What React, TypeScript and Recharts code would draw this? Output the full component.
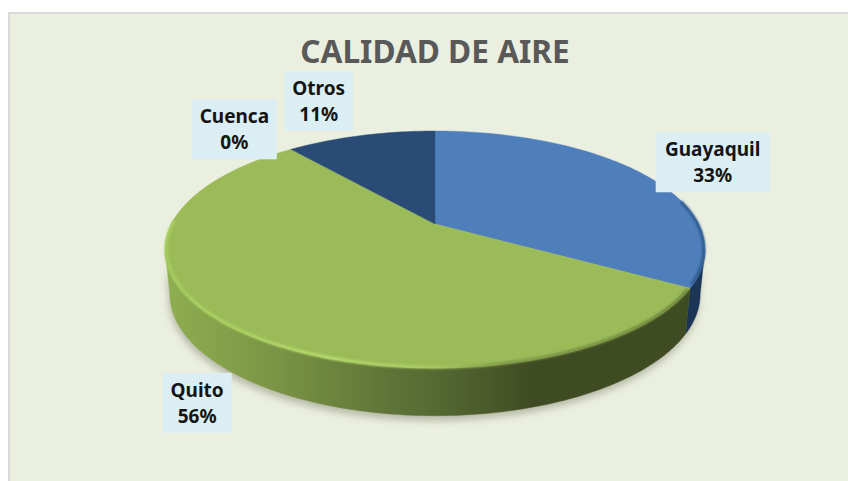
import React from "react";
import { PieChart, Pie } from "recharts";

const TITLE = "CALIDAD DE AIRE";
const cities = ["Guayaquil", "Quito", "Cuenca", "Otros"];
const shares = [33.45, 55.55, 0, 11];
const data = cities.map((name, i) => ({ name, value: shares[i] }));

const topColors = ["#4F7FBB", "#9BBB59", "#7D9C45", "#294B75"];
const wallColors = ["#1C3556", "url(#quitoWall)", "#55692F", "#1C3556"];
const labelOffsets = [
  { dx: 71, dy: -11, w: 114 },
  { dx: -33.5, dy: 76, w: 69 },
  { dx: -56.5, dy: -20, w: 85 },
  { dx: -42, dy: -34.5, w: 69 },
];

// Perspective of the tilted disc
const K = 0.215;
const TOP_V = 0.4287;
const BASE_U = 0.9825;
const BASE_V = 0.44;
const BASE_DY = 44;
const FRONT_FROM = 102.4;
const FRONT_TO = 257.6;

type P = [number, number];
const rad = (d: number) => (d * Math.PI) / 180;

function rim(cx: number, cy: number, R: number, theta: number, scale = 1): P {
  const u = Math.sin(rad(theta)) * scale;
  const v = Math.cos(rad(theta)) * scale;
  const den = 1 + K * v;
  return [cx + (R * u) / den, cy - (R * TOP_V * v) / den];
}
function base(cx: number, cy: number, R: number, theta: number): P {
  const u = Math.sin(rad(theta));
  const v = Math.cos(rad(theta));
  const den = 1 + K * v;
  return [cx + (R * BASE_U * u) / den, cy + BASE_DY - (R * BASE_V * v) / den];
}
function sweep(from: number, to: number): number[] {
  const out: number[] = [];
  for (let t = from; t < to; t += 1) out.push(t);
  out.push(to);
  return out;
}
const toPath = (pts: P[], close = false) =>
  pts.map((p, i) => `${i ? "L" : "M"}${p[0].toFixed(2)} ${p[1].toFixed(2)}`).join(" ") + (close ? " Z" : "");

const thetas = (p: any): [number, number] => [90 - p.startAngle, 90 - p.endAngle];

function wallPath(p: any): string | null {
  const [a, b] = thetas(p);
  const from = Math.max(a, FRONT_FROM);
  const to = Math.min(b, FRONT_TO);
  if (to <= from) return null;
  const ts = sweep(from, to);
  const upper = ts.map((t) => rim(p.cx, p.cy, p.outerRadius, t));
  const lower = ts.slice().reverse().map((t) => base(p.cx, p.cy, p.outerRadius, t));
  return toPath([...upper, ...lower], true);
}

function ShadowShape(p: any) {
  const d = wallPath(p);
  if (!d) return <g />;
  return <path d={d} fill="#6F735A" fillOpacity={0.42} stroke="none" transform="translate(-1 5)" filter="url(#soft4)" />;
}

function WallShape(p: any) {
  const d = wallPath(p);
  if (!d) return <g />;
  const i = cities.indexOf(p.name);
  const col = wallColors[i];
  return <path d={d} fill={col} stroke={col} strokeWidth={0.4} />;
}

function TopShape(p: any) {
  const [a, b] = thetas(p);
  if (b - a < 0.01) return <g />;
  const i = cities.indexOf(p.name);
  const { cx, cy, outerRadius: R } = p;
  const d = toPath([[cx, cy], ...sweep(a, b).map((t) => rim(cx, cy, R, t))], true);
  let bevel: React.ReactNode = null;
  if (p.name === "Quito") {
    const pts = sweep(Math.max(a, 121), Math.min(b, 272)).map((t) => rim(cx, cy, R, t, 0.996));
    bevel = <path d={toPath(pts)} fill="none" stroke="url(#quitoBevel)" strokeWidth={3} filter="url(#soft1)" />;
  } else if (p.name === "Guayaquil") {
    const pts = sweep(Math.max(a, 78), Math.min(b, 119)).map((t) => rim(cx, cy, R, t, 0.996));
    bevel = <path d={toPath(pts)} fill="none" stroke="#2F5A8E" strokeWidth={3} filter="url(#soft1)" />;
  }
  return (
    <g>
      <path d={d} fill={topColors[i]} stroke={topColors[i]} strokeWidth={0.4} />
      {bevel}
    </g>
  );
}

function renderLabel(p: any) {
  const i = cities.indexOf(p.name);
  const o = labelOffsets[i];
  const [x0, y0] = rim(p.cx, p.cy, p.outerRadius, 90 - p.midAngle);
  const x = x0 + o.dx;
  const y = y0 + o.dy;
  const font = { fontFamily: "'Noto Sans', sans-serif", fontWeight: 700, fontSize: 19, fill: "#141414", textAnchor: "middle" as const };
  return (
    <g key={p.name}>
      <rect x={x - o.w / 2} y={y - 30} width={o.w} height={60} fill="#DAEEF3" />
      <text x={x} y={y - 6} {...font}>{p.name}</text>
      <text x={x} y={y + 20} {...font}>{`${Math.round(p.percent * 100)}%`}</text>
    </g>
  );
}

const pieBase = {
  data,
  dataKey: "value",
  nameKey: "name",
  cx: 435,
  cy: 224,
  outerRadius: 263.6,
  startAngle: 90,
  endAngle: -270,
  paddingAngle: 0,
  stroke: "none",
  isAnimationActive: false,
  labelLine: false,
  rootTabIndex: -1,
};

export default function App() {
  return (
    <div style={{ position: "absolute", left: 0, top: 0, width: 848, height: 481, overflow: "hidden", background: "#FFFFFF" }}>
      <div
        style={{
          position: "absolute",
          left: 8,
          top: 12,
          width: 840,
          height: 469,
          boxSizing: "border-box",
          background: "#EBEFDF",
          borderLeft: "2px solid #D9D9D9",
          borderTop: "2px solid #D9D9D9",
        }}
      />
      <div style={{ position: "absolute", left: 0, top: 0 }}>
        <PieChart width={848} height={481} margin={{ top: 0, right: 0, bottom: 0, left: 0 }}>
          <defs>
            <linearGradient id="quitoWall" gradientUnits="userSpaceOnUse" x1={165} y1={0} x2={705} y2={0}>
              <stop offset="0" stopColor="#8FAF50" />
              <stop offset="0.2" stopColor="#7A9545" />
              <stop offset="0.42" stopColor="#5E7437" />
              <stop offset="0.6" stopColor="#4A5A2A" />
              <stop offset="0.68" stopColor="#3F4B23" />
              <stop offset="1" stopColor="#3F4B23" />
            </linearGradient>
            <linearGradient id="quitoBevel" gradientUnits="userSpaceOnUse" x1={165} y1={0} x2={705} y2={0}>
              <stop offset="0" stopColor="#A6CE5E" />
              <stop offset="0.3" stopColor="#B6DC6F" />
              <stop offset="0.5" stopColor="#A8CC62" />
              <stop offset="0.62" stopColor="#7F9A48" />
              <stop offset="1" stopColor="#6A8239" />
            </linearGradient>
            <filter id="soft4" filterUnits="userSpaceOnUse" x={0} y={0} width={848} height={481}>
              <feGaussianBlur stdDeviation={3.5} />
            </filter>
            <filter id="soft1" filterUnits="userSpaceOnUse" x={0} y={0} width={848} height={481}>
              <feGaussianBlur stdDeviation={1} />
            </filter>
          </defs>
          <text
            x={435}
            y={63}
            textAnchor="middle"
            fontFamily="'Noto Sans', sans-serif"
            fontWeight={700}
            fontSize={31.6}
            fill="#595959"
          >
            {TITLE}
          </text>
          <Pie {...pieBase} shape={ShadowShape} label={false} />
          <Pie {...pieBase} shape={WallShape} label={false} />
          <Pie {...pieBase} shape={TopShape} label={renderLabel} />
        </PieChart>
      </div>
    </div>
  );
}
